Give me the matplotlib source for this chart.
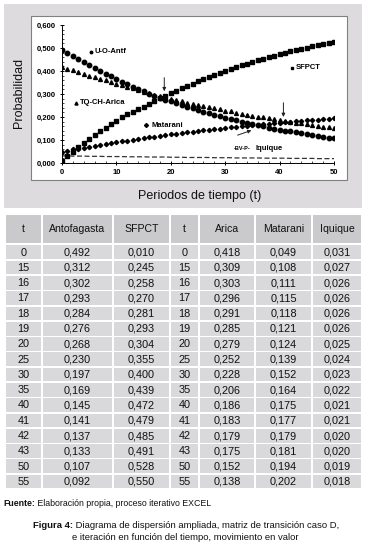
import matplotlib
matplotlib.use("Agg")
import matplotlib.pyplot as plt
from matplotlib.patches import Rectangle
from matplotlib.ticker import MultipleLocator, FuncFormatter

W, H = 369, 551

# series (t = 0..50)
periods = list(range(51))
antof = [.492, .478, .465, .452, .439, .426, .413, .401, .389, .377, .365,
         .354, .343, .332, .322, .312, .302, .293, .284, .276, .268,
         .260, .253, .245, .238, .230, .223, .216, .210, .203, .197,
         .191, .185, .180, .174, .169, .164, .159, .154, .150, .145,
         .141, .137, .133, .129, .125, .121, .117, .114, .110, .107]
sfpct = [.010, .030, .049, .068, .086, .104, .121, .138, .154, .169, .184,
         .198, .211, .222, .234, .245, .258, .270, .281, .293, .304,
         .315, .325, .335, .345, .355, .364, .373, .382, .391, .400,
         .408, .416, .424, .431, .439, .446, .453, .460, .466, .472,
         .479, .485, .491, .497, .502, .507, .512, .517, .523, .528]
arica = [.418, .410, .403, .395, .388, .380, .373, .366, .359, .352, .345,
         .339, .332, .325, .317, .309, .303, .296, .291, .285, .279,
         .273, .268, .262, .257, .252, .247, .242, .237, .233, .228,
         .224, .219, .215, .210, .206, .202, .198, .194, .190, .186,
         .183, .179, .175, .172, .168, .165, .161, .158, .155, .152]
matarani = [.049, .054, .059, .063, .067, .071, .075, .079, .083, .087, .090,
            .094, .097, .101, .105, .108, .111, .115, .118, .121, .124,
            .127, .130, .133, .136, .139, .142, .145, .147, .150, .152,
            .155, .157, .160, .162, .164, .166, .168, .171, .173, .175,
            .177, .179, .181, .183, .185, .187, .189, .190, .192, .194]
iquique = [.031, .031, .030, .030, .030, .029, .029, .029, .028, .028, .028,
           .028, .027, .027, .027, .027, .026, .026, .026, .026, .025,
           .025, .025, .024, .024, .024, .024, .024, .023, .023, .023,
           .023, .022, .022, .022, .022, .022, .021, .021, .021, .021,
           .021, .020, .020, .020, .020, .020, .019, .019, .019, .019]

# table
tab_header = ["t", "Antofagasta", "SFPCT", "t", "Arica", "Matarani", "Iquique"]
tab_t = ["0", "15", "16", "17", "18", "19", "20", "25", "30", "35",
         "40", "41", "42", "43", "50", "55"]
tab_antof = ["0,492", "0,312", "0,302", "0,293", "0,284", "0,276", "0,268", "0,230",
             "0,197", "0,169", "0,145", "0,141", "0,137", "0,133", "0,107", "0,092"]
tab_sfpct = ["0,010", "0,245", "0,258", "0,270", "0,281", "0,293", "0,304", "0,355",
             "0,400", "0,439", "0,472", "0,479", "0,485", "0,491", "0,528", "0,550"]
tab_arica = ["0,418", "0,309", "0,303", "0,296", "0,291", "0,285", "0,279", "0,252",
             "0,228", "0,206", "0,186", "0,183", "0,179", "0,175", "0,152", "0,138"]
tab_matarani = ["0,049", "0,108", "0,111", "0,115", "0,118", "0,121", "0,124", "0,139",
                "0,152", "0,164", "0,175", "0,177", "0,179", "0,181", "0,194", "0,202"]
tab_iquique = ["0,031", "0,027", "0,026", "0,026", "0,026", "0,026", "0,025", "0,024",
               "0,023", "0,022", "0,021", "0,021", "0,020", "0,020", "0,019", "0,018"]

plt.rcParams["font.family"] = ["Liberation Sans", "DejaVu Sans"]

fig = plt.figure(figsize=(W / 100, H / 100), dpi=100)
fig.patch.set_facecolor("white")

# pixel-coordinate canvas for backgrounds, table and captions
bg = fig.add_axes([0, 0, 1, 1], zorder=0)
bg.set_xlim(0, W)
bg.set_ylim(H, 0)
bg.axis("off")

C_PANEL = "#dddbde"
C_HEAD = "#cac9cb"
C_CELL = "#d9d8da"

bg.add_patch(Rectangle((4, 4), 358, 204, facecolor=C_PANEL, edgecolor="none"))
bg.add_patch(Rectangle((31, 16), 316, 164, facecolor="white", edgecolor="#808080", linewidth=0.8))

# chart
ax = fig.add_axes([62 / W, 1 - 163 / H, (334 - 62) / W, (163 - 25) / H], zorder=2)
ax.set_facecolor("none")
ax.plot(periods, iquique, color="#333333", linewidth=0.9, linestyle=(0, (4, 2)))
ax.plot(periods, matarani, linestyle="none", marker="D", markersize=2.2, color="black")
ax.plot(periods, arica, linestyle="none", marker="^", markersize=2.8, color="black")
ax.plot(periods, sfpct, linestyle="none", marker="s", markersize=2.4, color="black")
ax.plot(periods, antof, linestyle="none", marker="o", markersize=3.2, color="black")

ax.set_xlim(0, 50)
ax.set_ylim(0, 0.6)
ax.xaxis.set_major_locator(MultipleLocator(10))
ax.xaxis.set_minor_locator(MultipleLocator(2))
ax.yaxis.set_major_locator(MultipleLocator(0.1))
ax.yaxis.set_minor_locator(MultipleLocator(0.02))
ax.yaxis.set_major_formatter(FuncFormatter(lambda v, p: f"{v:.3f}".replace(".", ",")))
for s in ["top", "right"]:
    ax.spines[s].set_visible(False)
for s in ["left", "bottom"]:
    ax.spines[s].set_linewidth(0.7)
ax.tick_params(which="major", length=3, width=0.7, direction="inout", labelsize=5.5, pad=3)
ax.tick_params(which="minor", length=1.5, width=0.5, direction="in")
for lab in ax.get_xticklabels() + ax.get_yticklabels():
    lab.set_fontweight("bold")

# series labels
lab_kw = dict(fontsize=5.5, fontweight="bold", va="center")
ax.plot([5.4], [0.484], marker="o", markersize=1.8, color="black")
ax.text(6.0, 0.484, "U-O-Antf", **lab_kw)
ax.plot([42.3], [0.414], marker="s", markersize=1.8, color="black")
ax.text(43.0, 0.414, "SFPCT", **lab_kw)
ax.plot([2.6], [0.262], marker="^", markersize=2.2, color="black")
ax.text(3.3, 0.262, "TQ-CH-Arica", **lab_kw)
ax.plot([15.4], [0.165], marker="D", markersize=2.0, color="black")
ax.text(16.4, 0.165, "Matarani", **lab_kw)
ax.text(31.5, 0.061, "-BV-P-", fontsize=4, fontweight="bold", va="center")
ax.text(35.6, 0.061, "Iquique", **lab_kw)

arrow = dict(arrowstyle="-|>", color="#222222", linewidth=0.7, mutation_scale=5)
ax.annotate("", xy=(18.8, 0.300), xytext=(18.8, 0.383), arrowprops=arrow)
ax.annotate("", xy=(40.7, 0.188), xytext=(40.7, 0.274), arrowprops=arrow)
ax.annotate("", xy=(35.3, 0.146), xytext=(31.8, 0.117), arrowprops=arrow)

fig.text(19 / W, 1 - 93 / H, "Probabilidad", rotation=90, fontsize=9,
         ha="center", va="center", color="#111111")
fig.text(200 / W, 1 - 196 / H, "Periodos de tiempo (t)", fontsize=9,
         ha="center", va="center", color="#111111")

# table
col_edges = [5, 42, 113, 170, 199, 255, 312, 362]
head_top, head_bot = 215, 243
row_h = 15.29
row0_top = 244.6
columns = [tab_t, tab_antof, tab_sfpct, tab_t, tab_arica, tab_matarani, tab_iquique]
gap = 1.6
for j, name in enumerate(tab_header):
    x0, x1 = col_edges[j], col_edges[j + 1]
    bg.add_patch(Rectangle((x0 + gap / 2, head_top), x1 - x0 - gap, head_bot - head_top,
                           facecolor=C_HEAD, edgecolor="none"))
    bg.text((x0 + x1) / 2, (head_top + head_bot) / 2 + 0.5, name, fontsize=7.6,
            ha="center", va="center", color="#111111")
    for i, val in enumerate(columns[j]):
        y0 = row0_top + i * row_h
        bg.add_patch(Rectangle((x0 + gap / 2, y0 + gap / 2), x1 - x0 - gap, row_h - gap,
                               facecolor=C_CELL, edgecolor="none"))
        bg.text((x0 + x1) / 2, y0 + row_h / 2 + 0.3, val, fontsize=7.8,
                ha="center", va="center", color="#111111")

# captions
src = bg.text(3, 503, "Fuente:", fontsize=6.3, fontweight="bold", ha="left", va="center",
              color="#111111")
bg.annotate(" Elaboración propia, proceso iterativo EXCEL", xy=(1, 0.5), xycoords=src,
            fontsize=6.3, ha="left", va="center", color="#111111")

fig_lab = bg.text(33, 525, "Figura 4:", fontsize=6.8, fontweight="bold", ha="left",
                  va="center", color="#111111")
bg.annotate(" Diagrama de dispersión ampliada, matriz de transición caso D,",
            xy=(1, 0.5), xycoords=fig_lab, fontsize=6.8, ha="left", va="center",
            color="#111111")
bg.text(185, 538, "e iteración en función del tiempo, movimiento en valor",
        fontsize=6.8, ha="center", va="center", color="#111111")

fig.savefig("out.png", dpi=100)
